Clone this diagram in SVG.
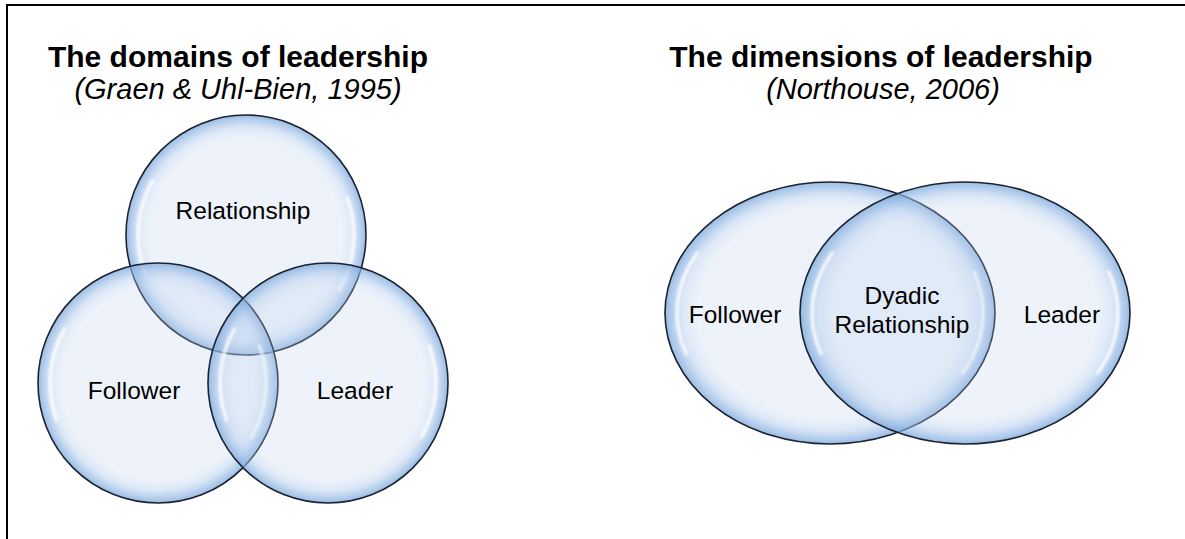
<svg xmlns="http://www.w3.org/2000/svg" width="1185" height="539" viewBox="0 0 1185 539">
  <style>
    .title { font-family: "Liberation Sans", Arial, sans-serif; font-size: 30px; font-weight: bold; fill: #000; text-anchor: middle; }
    .cite { font-family: "Liberation Sans", Arial, sans-serif; font-size: 29px; font-style: italic; fill: #000; text-anchor: middle; }
    .label { font-family: "Liberation Sans", Arial, sans-serif; font-size: 24.5px; fill: #000; text-anchor: middle; }
    .bubble { fill: url(#glass); stroke: #1b2230; stroke-width: 1.6; }
    .shine { fill: none; stroke: #ffffff; stroke-width: 3.5; stroke-linecap: round; opacity: 0.8; filter: url(#soft); }
  </style>
  <defs>
    <!-- translucent glass fill: pale body, bluer rim; overlaps darken naturally -->
    <radialGradient id="glass" cx="0.5" cy="0.5" r="0.5">
      <stop offset="0" stop-color="#BCD0EC" stop-opacity="0.26"/>
      <stop offset="0.8" stop-color="#BCD0EC" stop-opacity="0.26"/>
      <stop offset="0.89" stop-color="#A9C6EC" stop-opacity="0.4"/>
      <stop offset="0.96" stop-color="#8DB4E2" stop-opacity="0.65"/>
      <stop offset="1" stop-color="#80AADD" stop-opacity="0.8"/>
    </radialGradient>
    <filter id="soft" x="-20%" y="-20%" width="140%" height="140%">
      <feGaussianBlur stdDeviation="1.1"/>
    </filter>
  </defs>

  <rect x="0" y="0" width="1185" height="539" fill="#ffffff"/>
  <!-- frame -->
  <path d="M7,539 V5 H1185" fill="none" stroke="#000" stroke-width="2"/>

  <!-- left panel headings -->
  <g id="domains-heading">
    <text class="title" x="238" y="67">The domains of leadership</text>
    <text class="cite" x="238" y="99">(Graen &amp; Uhl-Bien, 1995)</text>
  </g>

  <!-- right panel headings -->
  <g id="dimensions-heading">
    <text class="title" x="881" y="67">The dimensions of leadership</text>
    <text class="cite" x="883" y="99">(Northouse, 2006)</text>
  </g>

  <!-- three-circle domains diagram -->
  <g id="domain-relationship">
    <circle class="bubble" cx="246" cy="235" r="120"/>
    <path class="shine" d="M144.5,271.9 A108,108 0 0 1 152.5,181"/>
    <path class="shine" d="M347.5,198.1 A108,108 0 0 1 339.5,289"/>
  </g>
  <g id="domain-follower">
    <circle class="bubble" cx="158" cy="383" r="120"/>
    <path class="shine" d="M56.5,419.9 A108,108 0 0 1 64.5,329"/>
    <path class="shine" d="M259.5,346.1 A108,108 0 0 1 251.5,437"/>
  </g>
  <g id="domain-leader">
    <circle class="bubble" cx="328" cy="383" r="120"/>
    <path class="shine" d="M226.5,419.9 A108,108 0 0 1 234.5,329"/>
    <path class="shine" d="M429.5,346.1 A108,108 0 0 1 421.5,437"/>
  </g>
  <g id="domain-labels">
    <text class="label" x="243" y="219">Relationship</text>
    <text class="label" x="134" y="399">Follower</text>
    <text class="label" x="355" y="399">Leader</text>
  </g>

  <!-- two-ellipse dimensions diagram -->
  <g id="dimension-follower">
    <ellipse class="bubble" cx="830" cy="313" rx="165" ry="131"/>
    <path class="shine" d="M686.2,354 A153,120 0 0 1 697.5,253"/>
    <path class="shine" d="M973.8,272 A153,120 0 0 1 962.5,373"/>
  </g>
  <g id="dimension-leader">
    <ellipse class="bubble" cx="965" cy="313" rx="165" ry="131"/>
    <path class="shine" d="M821.2,354 A153,120 0 0 1 832.5,253"/>
    <path class="shine" d="M1108.8,272 A153,120 0 0 1 1097.5,373"/>
  </g>
  <g id="dimension-labels">
    <text class="label" x="735" y="323">Follower</text>
    <text class="label" x="1062" y="323">Leader</text>
    <text class="label" x="902" y="304">Dyadic</text>
    <text class="label" x="902" y="333">Relationship</text>
  </g>

  <!-- no connectors in this figure -->
  <g id="connectors"/>
</svg>
